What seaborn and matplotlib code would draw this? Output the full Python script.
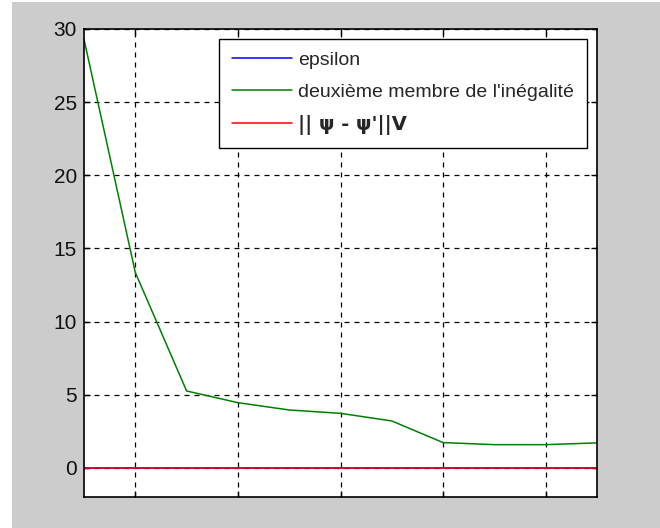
import matplotlib
matplotlib.use("Agg")
import matplotlib.pyplot as plt
from matplotlib.patches import Rectangle
import seaborn as sns
import pandas as pd

# Iteration index and the three monitored quantities
iterations = [1, 2, 3, 4, 5, 6, 7, 8, 9, 10, 11]
epsilon = [0, 0, 0, 0, 0, 0, 0, 0, 0, 0, 0]
second_membre = [29.3, 13.35, 5.25, 4.45, 3.95, 3.72, 3.2, 1.72, 1.58, 1.58, 1.7]
norme_diff = [0, 0, 0, 0, 0, 0, 0, 0, 0, 0, 0]

labels = ["epsilon", "deuxième membre de l'inégalité", "|| \u03c8 - \u03c8'||V"]
colors = ["#0000ff", "#008000", "#ff0000"]
y_ticks = [0, 5, 10, 15, 20, 25, 30]
x_ticks = [2, 4, 6, 8, 10]

df = pd.concat([
    pd.DataFrame({"iteration": iterations, "valeur": epsilon, "serie": labels[0]}),
    pd.DataFrame({"iteration": iterations, "valeur": second_membre, "serie": labels[1]}),
    pd.DataFrame({"iteration": iterations, "valeur": norme_diff, "serie": labels[2]}),
])

sns.set_theme(style="white")
plt.rcParams["font.family"] = ["Liberation Sans", "DejaVu Sans"]

fig = plt.figure(figsize=(6.6, 5.28), dpi=100, facecolor="white")
# grey figure panel, kept behind the axes
panel = Rectangle((12 / 660, 0), 648 / 660, 526 / 528, transform=fig.transFigure,
                  facecolor="#cccccc", edgecolor="none", zorder=-10)
fig.patches.append(panel)

ax = fig.add_axes([84 / 660, 1 - 497 / 528, (597 - 84) / 660, (497 - 29) / 528])
ax.set_zorder(1)
ax.set_facecolor("white")

sns.lineplot(data=df, x="iteration", y="valeur", hue="serie", hue_order=labels,
             palette=colors, linewidth=1.1, ax=ax, legend=True)

ax.set_xlim(1, 11)
ax.set_ylim(-2, 30)
ax.set_xticks(x_ticks)
ax.set_xticklabels([])
ax.set_yticks(y_ticks)
ax.set_yticklabels([str(v) for v in y_ticks], fontsize=15, color="#111111")
ax.set_xlabel("")
ax.set_ylabel("")

ax.grid(True, color="black", linestyle=(0, (4, 4)), linewidth=0.9)
ax.tick_params(direction="in", length=4, width=1, color="black",
               top=True, right=True, bottom=True, left=True, pad=5)
for s in ax.spines.values():
    s.set_visible(True)
    s.set_color("black")
    s.set_linewidth(1.2)

leg = ax.legend(loc="upper right", bbox_to_anchor=(587 / 660, 1 - 39 / 528),
                bbox_transform=fig.transFigure, fancybox=False, framealpha=1,
                edgecolor="black", fontsize=14, handlelength=3.1, handletextpad=0.32,
                labelspacing=0.72, borderpad=0.65, borderaxespad=0)
leg.get_frame().set_linewidth(1.0)
leg.get_texts()[2].set_fontweight("bold")
leg.get_texts()[2].set_family(["DejaVu Sans"])

fig.savefig("out.png", dpi=100, facecolor="white")
